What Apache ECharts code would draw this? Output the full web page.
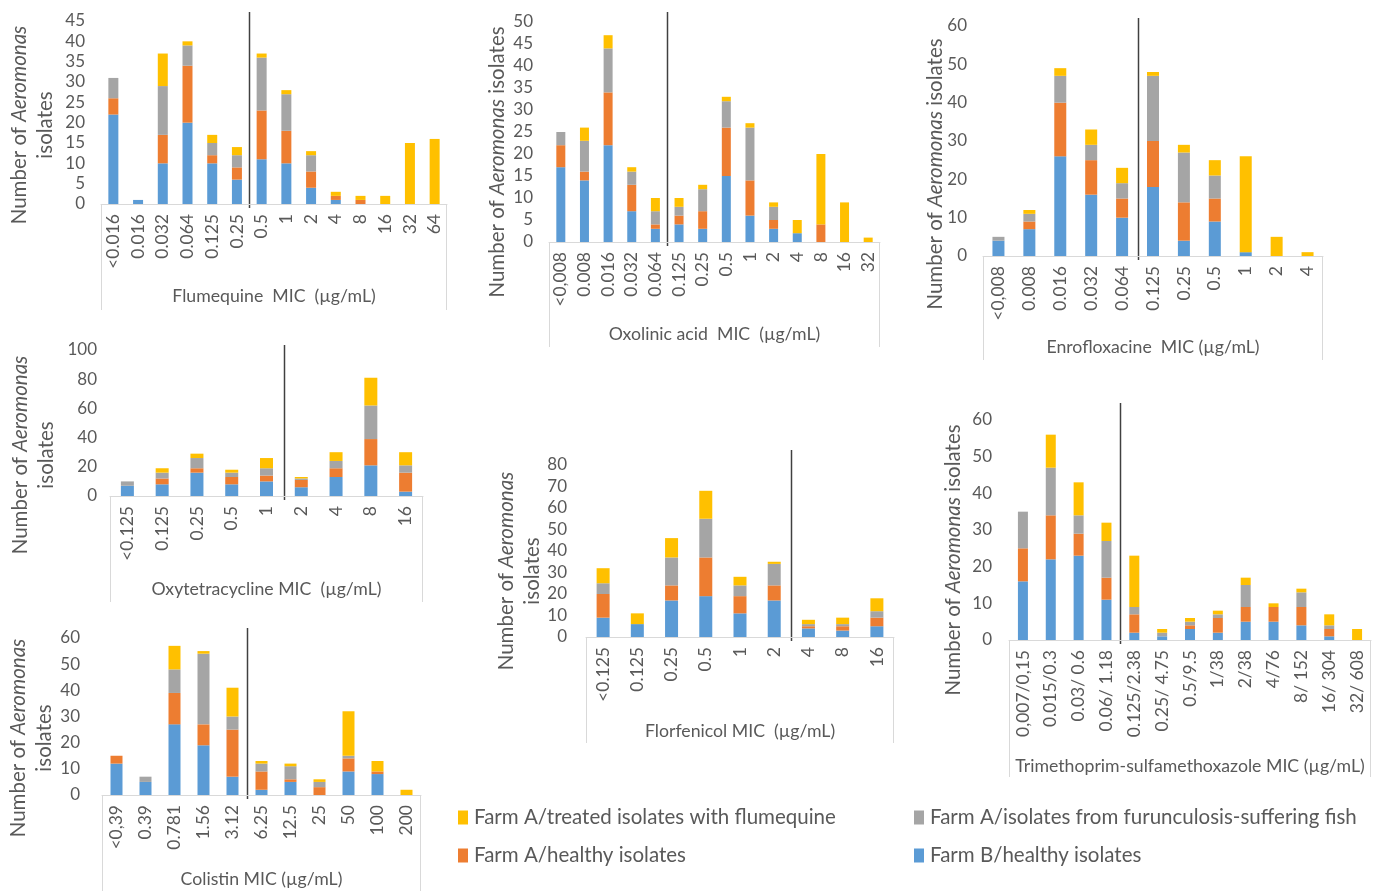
<!DOCTYPE html>
<html>
<head>
<meta charset="utf-8">
<script src="https://cdn.jsdelivr.net/npm/echarts@6/dist/echarts.min.js"></script>
<style>
html, body { margin: 0; padding: 0; background: #fff; }
#chart { width: 1381px; height: 891px; }
</style>
</head>
<body>
<div id="chart"></div>
<script>
// stack order in every panel: Farm B healthy, Farm A healthy, Farm A furunculosis, Farm A treated
const flumeCats = ['<0.016', '0.016', '0.032', '0.064', '0.125', '0.25', '0.5', '1', '2', '4', '8', '16', '32', '64']
const flumeFarmB = [22, 1, 10, 20, 10, 6, 11, 10, 4, 1, 0, 0, 0, 0]
const flumeHealthy = [4, 0, 7, 14, 2, 3, 12, 8, 4, 1, 1, 0, 0, 0]
const flumeFuruncle = [5, 0, 12, 5, 3, 3, 13, 9, 4, 0, 0, 0, 0, 0]
const flumeTreated = [0, 0, 8, 1, 2, 2, 1, 1, 1, 1, 1, 2, 15, 16]

const oxoCats = ['<0,008', '0.008', '0.016', '0.032', '0.064', '0.125', '0.25', '0.5', '1', '2', '4', '8', '16', '32']
const oxoFarmB = [17, 14, 22, 7, 3, 4, 3, 15, 6, 3, 2, 0, 0, 0]
const oxoHealthy = [5, 2, 12, 6, 1, 2, 4, 11, 8, 2, 0, 4, 0, 0]
const oxoFuruncle = [3, 7, 10, 3, 3, 2, 5, 6, 12, 3, 0, 0, 0, 0]
const oxoTreated = [0, 3, 3, 1, 3, 2, 1, 1, 1, 1, 3, 16, 9, 1]

const enroCats = ['<0,008', '0.008', '0.016', '0.032', '0.064', '0.125', '0.25', '0.5', '1', '2', '4']
const enroFarmB = [4, 7, 26, 16, 10, 18, 4, 9, 1, 0, 0]
const enroHealthy = [0, 2, 14, 9, 5, 12, 10, 6, 0, 0, 0]
const enroFuruncle = [1, 2, 7, 4, 4, 17, 13, 6, 0, 0, 0]
const enroTreated = [0, 1, 2, 4, 4, 1, 2, 4, 25, 5, 1]

const oxyCats = ['<0.125', '0.125', '0.25', '0.5', '1', '2', '4', '8', '16']
const oxyFarmB = [7, 8, 16, 8, 10, 6, 13, 21, 3]
const oxyHealthy = [0, 4, 3, 5, 4, 5, 6, 18, 13]
const oxyFuruncle = [3, 4, 7, 3, 5, 1, 5, 23, 5]
const oxyTreated = [0, 3, 3, 2, 7, 1, 6, 19, 9]

const florCats = ['<0.125', '0.125', '0.25', '0.5', '1', '2', '4', '8', '16']
const florFarmB = [9, 6, 17, 19, 11, 17, 4, 3, 5]
const florHealthy = [11, 0, 7, 18, 8, 7, 1, 2, 4]
const florFuruncle = [5, 0, 13, 18, 5, 10, 1, 1, 3]
const florTreated = [7, 5, 9, 13, 4, 1, 2, 3, 6]

const tmsCats = ['0,007/0,15', '0.015/0.3', '0.03/ 0.6', '0.06/ 1.18', '0.125/2.38', '0.25/ 4.75', '0.5/9.5', '1/38', '2/38', '4/76', '8/ 152', '16/ 304', '32/ 608']
const tmsFarmB = [16, 22, 23, 11, 2, 1, 3, 2, 5, 5, 4, 1, 0]
const tmsHealthy = [9, 12, 6, 6, 5, 0, 1, 4, 4, 4, 5, 2, 0]
const tmsFuruncle = [10, 13, 5, 10, 2, 1, 1, 1, 6, 0, 4, 1, 0]
const tmsTreated = [0, 9, 9, 5, 14, 1, 1, 1, 2, 1, 1, 3, 3]

const colCats = ['<0,39', '0.39', '0.781', '1.56', '3.12', '6.25', '12.5', '25', '50', '100', '200']
const colFarmB = [12, 5, 27, 19, 7, 2, 5, 0, 9, 8, 0]
const colHealthy = [3, 0, 12, 8, 18, 7, 1, 3, 5, 1, 0]
const colFuruncle = [0, 2, 9, 27, 5, 3, 5, 2, 1, 0, 0]
const colTreated = [0, 0, 9, 1, 11, 1, 1, 1, 17, 4, 2]

const seriesNames = [
    'Farm B/healthy isolates',
    'Farm A/healthy isolates',
    'Farm A/isolates from furunculosis-suffering fish',
    'Farm A/treated isolates with flumequine',
]
const colors = ['#5B9BD5', '#ED7D31', '#A5A5A5', '#FFC000']

const font = 'Lato, "Open Sans", sans-serif'
const textColor = '#595959'

// layout of the seven small charts (px on the 1381x891 page)
// sep = index of first category right of the breakpoint line
const panels = [
    { cats: flumeCats, vals: [flumeFarmB, flumeHealthy, flumeFuruncle, flumeTreated], title: 'Flumequine  MIC  (µg/mL)',
      left: 101, right: 447, top: 21, axis: 204, max: 45, step: 5, sep: 6, bar: 10, yMargin: 16, nameGap: 83,
      lineTop: 12, boxBottom: 310, yName: { x: 32, y: 125, twoLines: true } },
    { cats: oxoCats, vals: [oxoFarmB, oxoHealthy, oxoFuruncle, oxoTreated], title: 'Oxolinic acid  MIC  (µg/mL)',
      left: 549, right: 880, top: 22, axis: 242, max: 50, step: 5, sep: 5, bar: 9, yMargin: 16, nameGap: 83,
      lineTop: 12, boxBottom: 347, yName: { x: 497, y: 162, twoLines: false } },
    { cats: enroCats, vals: [enroFarmB, enroHealthy, enroFuruncle, enroTreated], title: 'Enrofloxacine  MIC (µg/mL)',
      left: 983, right: 1323, top: 26, axis: 256, max: 60, step: 10, sep: 5, bar: 12, yMargin: 16, nameGap: 82,
      lineTop: 18, boxBottom: 360, yName: { x: 935, y: 174, twoLines: false } },
    { cats: oxyCats, vals: [oxyFarmB, oxyHealthy, oxyFuruncle, oxyTreated], title: 'Oxytetracycline MIC  (µg/mL)',
      left: 110, right: 423, top: 350, axis: 496, max: 100, step: 20, sep: 5, bar: 13, yMargin: 13, nameGap: 84,
      lineTop: 345, boxBottom: 602, yName: { x: 33, y: 455, twoLines: true } },
    { cats: florCats, vals: [florFarmB, florHealthy, florFuruncle, florTreated], title: 'Florfenicol MIC  (µg/mL)',
      left: 586, right: 894, top: 465, axis: 637, max: 80, step: 10, sep: 6, bar: 13, yMargin: 19, nameGap: 85,
      lineTop: 450, boxBottom: 743, yName: { x: 519, y: 571, twoLines: true } },
    { cats: tmsCats, vals: [tmsFarmB, tmsHealthy, tmsFuruncle, tmsTreated], title: 'Trimethoprim-sulfamethoxazole MIC (µg/mL)',
      left: 1009, right: 1371, top: 420, axis: 640, max: 60, step: 10, sep: 4, bar: 10, yMargin: 17, nameGap: 117,
      lineTop: 403, boxBottom: 777, yName: { x: 953, y: 560, twoLines: false } },
    { cats: colCats, vals: [colFarmB, colHealthy, colFuruncle, colTreated], title: 'Colistin MIC (µg/mL)',
      left: 102, right: 421, top: 638, axis: 795, max: 60, step: 10, sep: 5, bar: 12, yMargin: 22, nameGap: 75,
      lineTop: 628, boxBottom: 891, yName: { x: 31, y: 738, twoLines: true } },
]

const chart = echarts.init(document.getElementById('chart'))

const grid = []
const xAxis = []
const yAxis = []
const series = []

panels.forEach((p, i) => {
    grid.push({ left: p.left, top: p.top, width: p.right - p.left, height: p.axis - p.top, containLabel: false })
    xAxis.push({
        type: 'category',
        gridIndex: i,
        data: p.cats,
        axisTick: { show: false },
        axisLine: { lineStyle: { color: '#D9D9D9', width: 1 } },
        axisLabel: { rotate: 90, interval: 0, margin: 10, color: textColor, fontSize: 17.5, fontFamily: font },
        name: p.title,
        nameLocation: 'middle',
        nameGap: p.nameGap,
        nameTextStyle: { color: textColor, fontSize: 17.7, fontFamily: font },
    })
    yAxis.push({
        type: 'value',
        gridIndex: i,
        min: 0,
        max: p.max,
        interval: p.step,
        axisLine: { show: false },
        axisTick: { show: false },
        splitLine: { show: false },
        axisLabel: { color: textColor, fontSize: 17, fontFamily: font, margin: p.yMargin },
    })
    p.vals.forEach((v, k) => {
        series.push({
            name: seriesNames[k],
            type: 'bar',
            stack: 'p' + i,
            xAxisIndex: i,
            yAxisIndex: i,
            barWidth: p.bar,
            data: v,
            itemStyle: { color: colors[k] },
            emphasis: { disabled: true },
        })
    })
})

// legend 2x2, one component per entry
const legendPos = [
    { name: seriesNames[3], left: 458, top: 807 },
    { name: seriesNames[2], left: 914, top: 807 },
    { name: seriesNames[1], left: 458, top: 845 },
    { name: seriesNames[0], left: 914, top: 845 },
]
const legend = legendPos.map(l => ({
    data: [l.name],
    left: l.left,
    top: l.top,
    padding: 0,
    icon: 'rect',
    itemWidth: 10,
    itemHeight: 14,
    itemGap: 6,
    textStyle: { color: textColor, fontSize: 20.5, fontFamily: font, padding: [0, 0, 0, 1] },
}))

chart.setOption({
    animation: false,
    backgroundColor: '#fff',
    grid,
    xAxis,
    yAxis,
    series,
    legend,
})

// breakpoint lines, category-axis boxes and y axis titles
const graphic = []
panels.forEach((p, i) => {
    const x1 = chart.convertToPixel({ xAxisIndex: i }, p.cats[p.sep - 1])
    const x2 = chart.convertToPixel({ xAxisIndex: i }, p.cats[p.sep])
    const sx = Math.round((x1 + x2) / 2) + 0.5
    graphic.push({
        type: 'line',
        shape: { x1: sx, y1: p.lineTop, x2: sx, y2: p.axis + 4 },
        style: { stroke: '#404040', lineWidth: 1.5 },
        silent: true,
    })
    ;[p.left + 0.5, p.right - 0.5].forEach(bx => {
        graphic.push({
            type: 'line',
            shape: { x1: bx, y1: p.axis, x2: bx, y2: p.boxBottom },
            style: { stroke: '#D9D9D9', lineWidth: 1 },
            silent: true,
        })
    })
    const txt = p.yName.twoLines ? 'Number of {it|Aeromonas}\nisolates' : 'Number of {it|Aeromonas} isolates'
    graphic.push({
        type: 'text',
        x: p.yName.x,
        y: p.yName.y,
        rotation: Math.PI / 2,
        silent: true,
        style: {
            text: txt,
            fill: textColor,
            font: '20.5px ' + font,
            align: 'center',
            verticalAlign: 'middle',
            lineHeight: 26,
            rich: {
                it: { fontStyle: 'italic', fontSize: 20.5, fontFamily: font, fill: textColor, lineHeight: 26 },
            },
        },
    })
})
chart.setOption({ graphic })
</script>
</body>
</html>
